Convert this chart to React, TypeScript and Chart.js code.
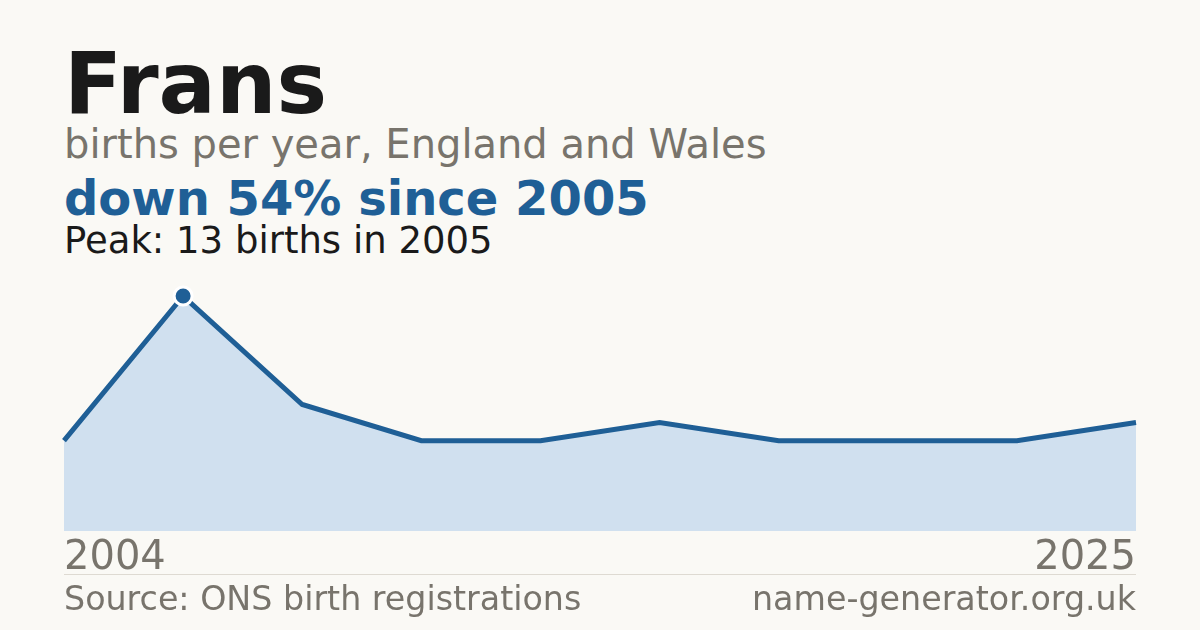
import { useEffect, useRef } from "react"
import { Chart, registerables } from "chart.js"

Chart.register(...registerables)

// Years with reported births (category axis, only first and last labelled)
const years = ["2004", "2005", "2007", "2009", "2011", "2013", "2015", "2017", "2021", "2025"]
const births = [5, 13, 7, 5, 5, 6, 5, 5, 5, 6]
const peakIndex = 1
const yMax = 14.44

const BLUE = "#1f5f96"
const FILL = "#d0e0ef"
const GREY = "#78746c"
const BG = "#faf9f5"
const FONT = "'DejaVu Sans', sans-serif"

function TrendChart() {
  const canvasRef = useRef<HTMLCanvasElement>(null)
  const chartRef = useRef<Chart | null>(null)

  useEffect(() => {
    if (!canvasRef.current) return
    if (chartRef.current) chartRef.current.destroy()

    chartRef.current = new Chart(canvasRef.current, {
      type: "line",
      data: {
        labels: years,
        datasets: [
          {
            data: births,
            borderColor: BLUE,
            borderWidth: 5,
            backgroundColor: FILL,
            fill: "origin",
            tension: 0,
            pointRadius: births.map((_, i) => (i === peakIndex ? 9 : 0)),
            pointBackgroundColor: BLUE,
            pointBorderColor: "#ffffff",
            pointBorderWidth: 3,
            pointHoverRadius: 0,
          },
        ],
      },
      options: {
        responsive: false,
        animation: false,
        layout: { padding: { left: 64, right: 64, top: 10, bottom: 0 } },
        plugins: { legend: { display: false }, tooltip: { enabled: false } },
        scales: {
          x: {
            offset: false,
            grid: { display: false, drawTicks: false },
            border: { display: false },
            ticks: {
              autoSkip: false,
              maxRotation: 0,
              align: "inner",
              padding: 8,
              color: GREY,
              font: { family: FONT, size: 40, lineHeight: 1 },
              callback: (_v, i) => (i === 0 || i === years.length - 1 ? years[i] : ""),
            },
          },
          y: {
            display: false,
            min: 0,
            max: yMax,
          },
        },
      },
    })

    return () => {
      if (chartRef.current) {
        chartRef.current.destroy()
        chartRef.current = null
      }
    }
  }, [])

  return (
    <canvas
      ref={canvasRef}
      width={1200}
      height={327}
      style={{ position: "absolute", left: 0, top: 260, width: 1200, height: 327 }}
    />
  )
}

export default function App() {
  const text = (top: number, size: number, color: string, bold = false) => ({
    position: "absolute" as const,
    left: 64,
    top,
    fontSize: size,
    lineHeight: 1,
    fontWeight: bold ? 700 : 400,
    color,
    whiteSpace: "nowrap" as const,
  })

  return (
    <div
      style={{
        position: "fixed",
        left: 0,
        top: 0,
        width: 1200,
        height: 630,
        background: BG,
        fontFamily: FONT,
        overflow: "hidden",
      }}
    >
      <div style={text(41, 85, "#1a1a1a", true)}>Frans</div>
      <div style={text(124, 40, GREY)}>births per year, England and Wales</div>
      <div style={text(174, 48, BLUE, true)}>down 54% since 2005</div>
      <div style={text(222, 37, "#1a1a1a")}>Peak: 13 births in 2005</div>
      <TrendChart />
      <div style={{ position: "absolute", left: 64, top: 574, width: 1072, height: 1, background: "#dedad2" }} />
      <div style={text(582, 33.3, GREY)}>Source: ONS birth registrations</div>
      <div style={{ ...text(582, 33.3, GREY), left: "auto", right: 64 }}>name-generator.org.uk</div>
    </div>
  )
}
